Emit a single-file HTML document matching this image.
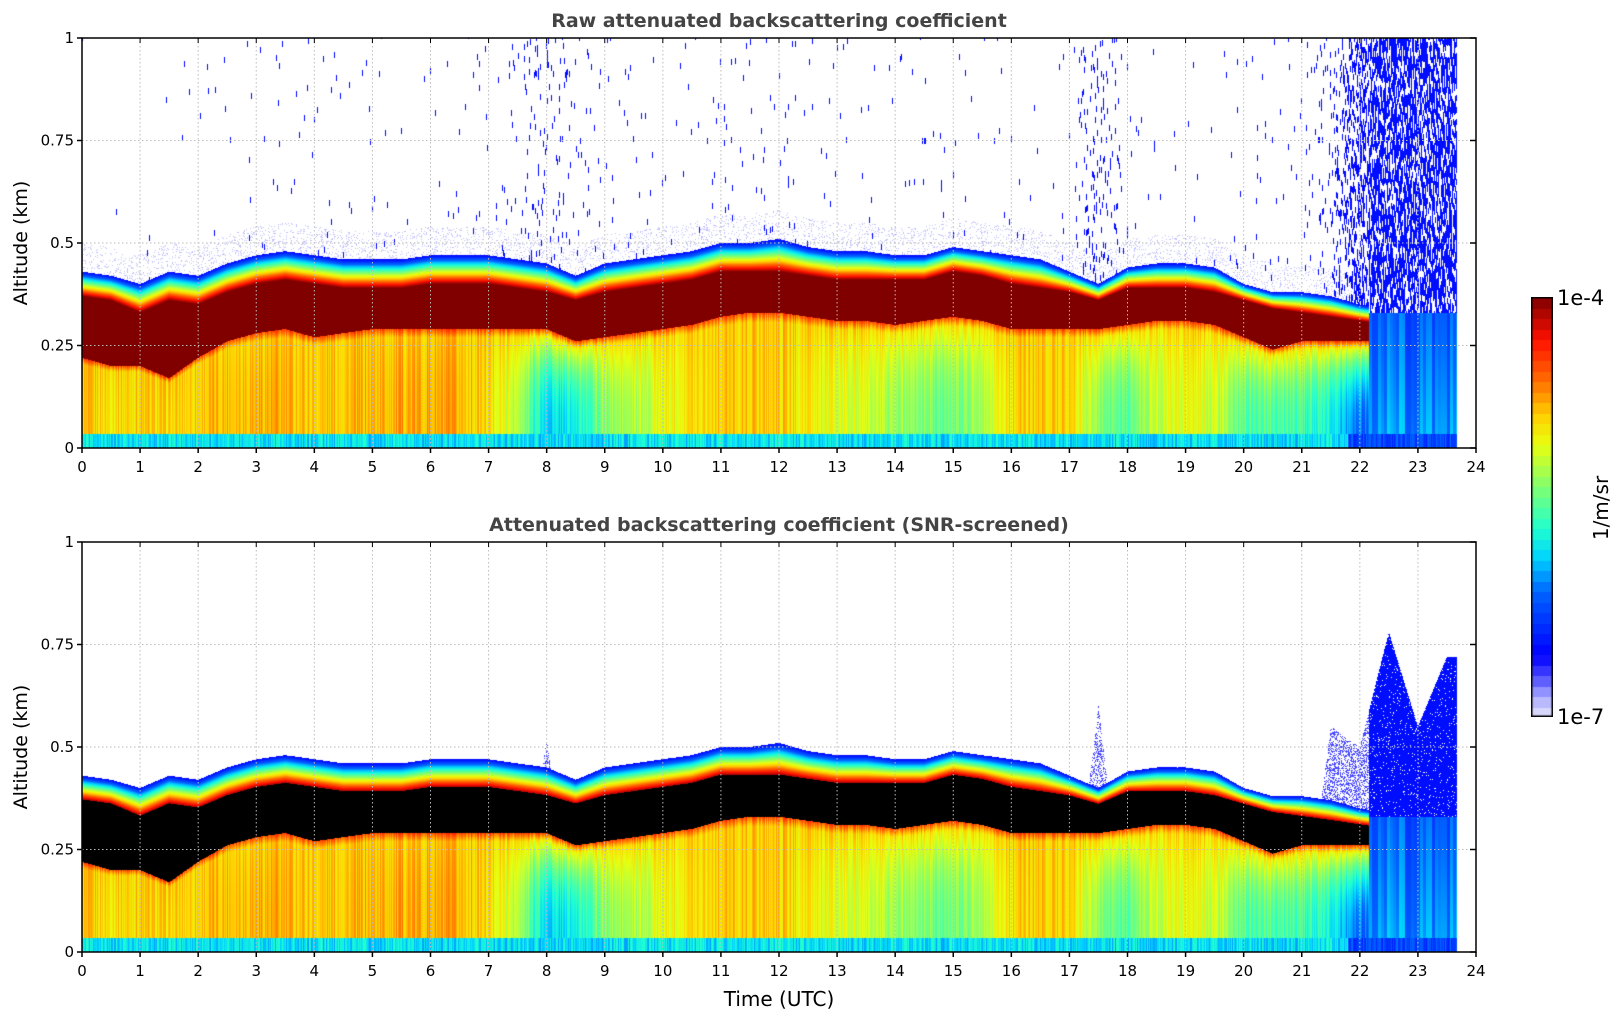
<!DOCTYPE html>
<html><head><meta charset="utf-8">
<style>
body{margin:0;background:#fff;width:1621px;height:1020px;overflow:hidden;position:relative;font-family:"DejaVu Sans","Liberation Sans",sans-serif}
canvas{position:absolute}
svg{position:absolute;left:0;top:0}
</style></head>
<body>
<canvas id="c1" width="1394" height="410" style="left:82px;top:38px"></canvas>
<canvas id="c2" width="1394" height="410" style="left:82px;top:542px"></canvas>
<canvas id="cb" width="22" height="420" style="left:1531px;top:297px"></canvas>
<svg id="ov" width="1621" height="1020"></svg>
<script>
// Data sampled every 0.5 h from 0 to 24 UTC (49 values), altitudes in km
const hours = [0,0.5,1,1.5,2,2.5,3,3.5,4,4.5,5,5.5,6,6.5,7,7.5,8,8.5,9,9.5,10,10.5,11,11.5,12,12.5,13,13.5,14,14.5,15,15.5,16,16.5,17,17.5,18,18.5,19,19.5,20,20.5,21,21.5,22,22.5,23,23.5,24];
const cloudTop = [0.43,0.42,0.40,0.43,0.42,0.45,0.47,0.48,0.47,0.46,0.46,0.46,0.47,0.47,0.47,0.46,0.45,0.42,0.45,0.46,0.47,0.48,0.50,0.50,0.51,0.49,0.48,0.48,0.47,0.47,0.49,0.48,0.47,0.46,0.43,0.40,0.44,0.45,0.45,0.44,0.40,0.38,0.38,0.37,0.35,0.34,0.33,0.33,0.33];
const coreTop = [0.37,0.36,0.33,0.36,0.35,0.38,0.40,0.41,0.40,0.39,0.39,0.39,0.40,0.40,0.40,0.39,0.38,0.36,0.38,0.39,0.40,0.41,0.43,0.43,0.43,0.42,0.41,0.41,0.41,0.41,0.43,0.42,0.40,0.39,0.38,0.36,0.39,0.39,0.39,0.38,0.36,0.34,0.33,0.32,0.31,0.30,0.30,0.30,0.30];
const cloudBase = [0.22,0.20,0.20,0.17,0.22,0.26,0.28,0.29,0.27,0.28,0.29,0.29,0.29,0.29,0.29,0.29,0.29,0.26,0.27,0.28,0.29,0.30,0.32,0.33,0.33,0.32,0.31,0.31,0.30,0.31,0.32,0.31,0.29,0.29,0.29,0.29,0.30,0.31,0.31,0.30,0.27,0.24,0.26,0.26,0.26,0.26,0.26,0.26,0.26];
const surfaceLevel = [0.72,0.70,0.72,0.70,0.72,0.74,0.75,0.74,0.72,0.73,0.74,0.75,0.75,0.74,0.70,0.60,0.38,0.42,0.55,0.58,0.65,0.70,0.72,0.72,0.72,0.68,0.64,0.62,0.58,0.55,0.52,0.60,0.70,0.72,0.72,0.55,0.50,0.62,0.65,0.62,0.50,0.50,0.48,0.42,0.30,0.25,0.25,0.25,0.25];
const speckleDensity = [0.002,0.002,0.002,0.002,0.004,0.006,0.006,0.006,0.006,0.006,0.006,0.006,0.006,0.008,0.01,0.03,0.07,0.03,0.012,0.012,0.012,0.015,0.02,0.02,0.02,0.015,0.012,0.012,0.012,0.01,0.01,0.006,0.006,0.006,0.006,0.12,0.02,0.006,0.006,0.006,0.01,0.012,0.015,0.08,0.45,0.5,0.45,0.5,0.45];
const screenedBlueTop = [0,0,0,0,0,0,0,0,0,0,0,0,0,0,0,0,0.52,0,0,0,0,0,0,0,0,0,0,0,0,0,0,0,0,0,0,0.6,0,0,0,0,0,0,0,0.55,0.5,0.78,0.55,0.72,0.72];
const dataEnd = 23.67;

const W=1394,H=410;
function xs(t){return t/24*W;}
function ys(z){return H - z*H;}
function interp(arr,t){let i=Math.min(47,Math.floor(t/0.5));let f=(t-hours[i])/0.5;return arr[i]*(1-f)+arr[i+1]*f;}
function hash(a,b){let h=Math.sin(a*127.1+b*311.7)*43758.5453;return h-Math.floor(h);}
const stops=[[0,[230,230,250]],[0.05,[170,170,255]],[0.1,[70,70,255]],[0.15,[0,0,255]],[0.3,[0,100,255]],[0.38,[0,210,255]],[0.45,[32,255,208]],[0.55,[128,255,112]],[0.65,[232,255,16]],[0.72,[255,208,0]],[0.8,[255,112,0]],[0.9,[255,16,0]],[1,[128,0,0]]];
function cmap(v){v=Math.max(0,Math.min(1,v));for(let i=1;i<stops.length;i++){if(v<=stops[i][0]){const a=stops[i-1],b=stops[i];const f=(v-a[0])/(b[0]-a[0]);return [0,1,2].map(k=>Math.round(a[1][k]*(1-f)+b[1][k]*f));}}return stops[stops.length-1][1];}

function render(id,screened){
  const ctx=document.getElementById(id).getContext('2d');
  const img=ctx.createImageData(W,H);const d=img.data;
  for(let px=0;px<W;px++){
    const t=(px+0.5)/W*24;
    const top=interp(cloudTop,t),ct=interp(coreTop,t),base=interp(cloudBase,t),s=interp(surfaceLevel,t),dens=interp(speckleDensity,t);
    const bt=interp(screenedBlueTop,t);
    const cn=hash(px,1)*0.1-0.05;
    for(let py=0;py<H;py++){
      const z=(H-py-0.5)/H;
      let v=null;
      const seg=Math.floor((py+hash(px,3)*6)/6);
      if(t>dataEnd){v=null;}
      else if(z<0.035){v=(t>21.8?0.25:0.4)+hash(px,7)*0.12-0.06;}
      else if(t>22.15){
        if(z<0.33) v=0.22+hash(Math.floor(px/3),5)*0.12+(0.33-z)*0.2;
        else if(screened){ if(z<bt && hash(px,py)>0.05) v=0.17; }
        else { if(hash(px,seg)<0.65) v=0.17; }
      }
      else if(z>top){
        const r=hash(px*3.1,seg*1.7);
        if(!screened){ if(r<dens) v=0.16; else if(z<top+0.07 && hash(px,py)<0.12) v=0.03; }
        else if(bt>0 && z<bt && hash(px,py)<0.4) v=0.1;
      }
      else if(z>ct){v=1-0.85*(z-ct)/(top-ct);}
      else if(z>base){v=1;}
      else {const f=Math.pow(z/base,3);v=s+(0.72-s)*f+cn+(f>0.8?(f-0.8)*0.6:0);}
      const i=(py*W+px)*4;
      if(v===null){d[i]=d[i+1]=d[i+2]=255;d[i+3]=255;continue;}
      let c=(screened&&v>=0.97)?[0,0,0]:cmap(v);
      d[i]=c[0];d[i+1]=c[1];d[i+2]=c[2];d[i+3]=255;
    }
  }
  ctx.putImageData(img,0,0);
}
render('c1',false);render('c2',true);
(function(){const ctx=document.getElementById('cb').getContext('2d');const n=40;for(let k=0;k<n;k++){const c=cmap((k+0.5)/n);ctx.fillStyle=`rgb(${c})`;const y0=420-(k+1)*420/n;ctx.fillRect(0,Math.floor(y0),22,Math.ceil(420/n)+1);}ctx.strokeStyle='#000';ctx.lineWidth=1.5;ctx.strokeRect(0.75,0.75,20.5,418.5);})();

const NS='http://www.w3.org/2000/svg';const ov=document.getElementById('ov');
function el(tag,attrs,txt){const e=document.createElementNS(NS,tag);for(const k in attrs)e.setAttribute(k,attrs[k]);if(txt!==undefined)e.textContent=txt;ov.appendChild(e);return e;}
const xTicks=[0,1,2,3,4,5,6,7,8,9,10,11,12,13,14,15,16,17,18,19,20,21,22,23,24];
const yTicks=[0,0.25,0.5,0.75,1];
const yLabels=['0','0.25','0.5','0.75','1'];
function axes(top,title,name){
  const L=82;
  for(const t of xTicks){const x=L+xs(t);
    const g=el('line',{x1:x,y1:top,x2:x,y2:top+H,stroke:'#bbb','stroke-dasharray':'1.5,2.5','stroke-width':1});
    
    el('line',{x1:x,y1:top+H,x2:x,y2:top+H+5,stroke:'#000','stroke-width':1.5});
    el('line',{x1:x,y1:top,x2:x,y2:top+5,stroke:'#000','stroke-width':1});
    const lb=el('text',{x:x,y:top+H+24,'font-size':15,'text-anchor':'middle',fill:'#000'},String(t));
    }
  yTicks.forEach((v,i)=>{const y=top+ys(v);
    const g=el('line',{x1:L,y1:y,x2:L+W,y2:y,stroke:'#bbb','stroke-dasharray':'1.5,2.5','stroke-width':1});
    
    el('line',{x1:L-5,y1:y,x2:L,y2:y,stroke:'#000','stroke-width':1.5});
    el('line',{x1:L+W-6,y1:y,x2:L+W,y2:y,stroke:'#000','stroke-width':1.5});
    const lb=el('text',{x:L-8,y:y+5,'font-size':15,'text-anchor':'end',fill:'#000'},yLabels[i]);
    });
  const fr=el('rect',{x:L,y:top,width:W,height:H,fill:'none',stroke:'#000','stroke-width':1.5});
  
  const ti=el('text',{x:L+W/2,y:top-11,'font-size':19,'font-weight':'bold','text-anchor':'middle',fill:'#444'},title);
  
  const yl=el('text',{x:0,y:0,'font-size':19,'text-anchor':'middle',fill:'#000',transform:`translate(27,${top+H/2}) rotate(-90)`},'Altitude (km)');
  
}
axes(38,'Raw attenuated backscattering coefficient','top-panel');
axes(542,'Attenuated backscattering coefficient (SNR-screened)','bottom-panel');
const xl=el('text',{x:779,y:1006,'font-size':20,'text-anchor':'middle',fill:'#000'},'Time (UTC)');

const c1=el('text',{x:1557,y:305,'font-size':21,fill:'#000'},'1e-4');

const c2=el('text',{x:1557,y:724,'font-size':21,fill:'#000'},'1e-7');

const cu=el('text',{x:0,y:0,'font-size':20,'text-anchor':'middle',fill:'#000',transform:'translate(1608,508) rotate(-90)'},'1/m/sr');

</script>
</body></html>
